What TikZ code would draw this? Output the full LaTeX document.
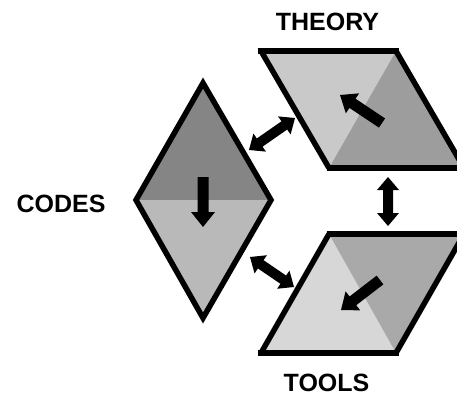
\documentclass[tikz,border=0pt]{standalone}
\usepackage{fontspec}
\setmainfont{Liberation Sans}
\usetikzlibrary{calc}
\definecolor{dkA}{HTML}{858585}
\definecolor{ltA}{HTML}{B9B9B9}
\definecolor{ltB}{HTML}{C9C9C9}
\definecolor{dkB}{HTML}{9D9D9D}
\definecolor{ltC}{HTML}{D7D7D7}
\definecolor{dkC}{HTML}{A9A9A9}
% single block arrow: #1 tail, #2 tip
\newcommand\myblockarr[2]{%
  \path ($(#2)!15pt!(#1)$) coordinate (hh);
  \fill[black] ($(#1)!5.5pt!90:(#2)$) -- ($(hh)!5.5pt!90:(#2)$) -- ($(hh)!12pt!90:(#2)$) -- (#2)
    -- ($(hh)!12pt!-90:(#2)$) -- ($(hh)!5.5pt!-90:(#2)$) -- ($(#1)!5.5pt!-90:(#2)$) -- cycle;}
% double block arrow between #1 and #2
\newcommand\mydblarr[2]{%
  \path ($(#1)!13pt!(#2)$) coordinate (ha) ($(#2)!13pt!(#1)$) coordinate (hb);
  \fill[black] (#1) -- ($(ha)!11pt!90:(#2)$) -- ($(ha)!5pt!90:(#2)$) -- ($(hb)!5pt!-90:(#1)$)
    -- ($(hb)!11pt!-90:(#1)$) -- (#2) -- ($(hb)!11pt!90:(#1)$) -- ($(hb)!5pt!90:(#1)$)
    -- ($(ha)!5pt!-90:(#2)$) -- ($(ha)!11pt!-90:(#2)$) -- cycle;}
\tikzset{
  edge/.style={line width=5.5pt},
  lbl/.style={font=\bfseries\fontsize{25}{25}\selectfont, inner sep=0pt, anchor=center}
}
\begin{document}
\begin{tikzpicture}[x=1pt,y=-1pt]
\clip (0,0) rectangle (457,401);
\fill[white] (0,0) rectangle (457,401);
% ---------- CODES diamond
\coordinate (dT) at (203,83);
\coordinate (dR) at (271,200);
\coordinate (dB) at (203,318);
\coordinate (dL) at (136,200);
\fill[dkA] (dL) -- (dT) -- (dR) -- cycle;
\fill[ltA] (dL) -- (dB) -- (dR) -- cycle;
\draw[edge] (dT) -- (dR) -- (dB) -- (dL) -- cycle;
% ---------- THEORY parallelogram
\coordinate (tTL) at (261,51);
\coordinate (tTR) at (396,51);
\coordinate (tBR) at (464,168);
\coordinate (tBL) at (329,168);
\fill[ltB] (tTL) -- (tTR) -- (tBL) -- cycle;
\fill[dkB] (tTR) -- (tBR) -- (tBL) -- cycle;
\draw[edge] (tTL) -- (tBL) (tTR) -- (tBR);
\draw[edge] ($(tTL)+(-3.5,0)$) -- ($(tTR)+(2.5,0)$);
\draw[edge] ($(tBL)+(-2.5,0)$) -- ($(tBR)+(3.5,0)$);
% ---------- TOOLS parallelogram
\coordinate (oTL) at (329,234);
\coordinate (oTR) at (464,234);
\coordinate (oBR) at (396,353);
\coordinate (oBL) at (261,353);
\fill[ltC] (oTL) -- (oBR) -- (oBL) -- cycle;
\fill[dkC] (oTL) -- (oTR) -- (oBR) -- cycle;
\draw[edge] (oTL) -- (oBL) (oTR) -- (oBR);
\draw[edge] ($(oTL)+(-2.5,0)$) -- ($(oTR)+(3.5,0)$);
\draw[edge] ($(oBL)+(-3.5,0)$) -- ($(oBR)+(2.5,0)$);
% ---------- inner arrows
\coordinate (a1t) at (203,177); \coordinate (a1h) at (203,227);
\myblockarr{a1t}{a1h}
\coordinate (a2t) at (382,123); \coordinate (a2h) at (340,95);
\myblockarr{a2t}{a2h}
\coordinate (a3t) at (380,280); \coordinate (a3h) at (341,310);
\myblockarr{a3t}{a3h}
% ---------- connectors
\coordinate (c1a) at (249,150); \coordinate (c1b) at (295,118);
\mydblarr{c1a}{c1b}
\coordinate (c2a) at (250,257); \coordinate (c2b) at (294,287);
\mydblarr{c2a}{c2b}
\coordinate (c3a) at (388,177); \coordinate (c3b) at (388,226);
\mydblarr{c3a}{c3b}
% ---------- labels
\node[lbl] (codes) at (61,204) {CODES};
\node[lbl] (theory) at (327.5,21.5) {THEORY};
\node[lbl] (tools) at (326.5,382.5) {TOOLS};
\end{tikzpicture}
\end{document}
